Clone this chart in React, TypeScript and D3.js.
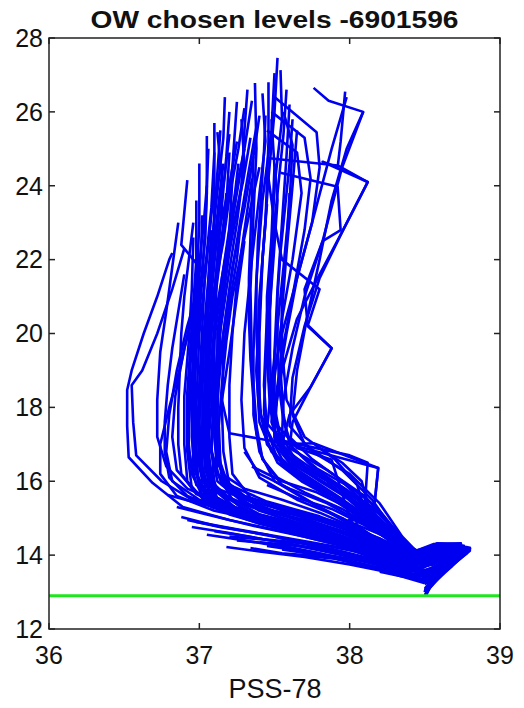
import React from 'react';
import * as d3 from 'd3';

type Pt = [number, number]; // [salinity, temperature]

// profiles whose upper part sits in the dense core around 37.0-37.3
const coreProfiles: Pt[][] = [
  [[37.25,26.27],[37.22,24.5],[37.15,22.5],[37.08,20.5],[37.05,18.5],[37.03,16.8],[37.1,15.8],[37.4,15.1],[37.85,14.6],[38.2,14.1],[38.45,13.9],[38.62,14.25],[38.78,14.18],[38.62,13.5],[38.52,13.05]],
  [[37.1,25.7],[37.1,24.0],[37.05,22.0],[37.0,20.0],[36.98,18.0],[37.0,16.5],[37.08,15.6],[37.35,15.0],[37.8,14.5],[38.1,14.0],[38.4,13.7],[38.65,14.1],[38.75,14.12],[38.58,13.4],[38.51,13.1]],
  [[37.05,25.35],[37.05,23.8],[37.02,21.5],[36.98,19.5],[36.96,17.5],[36.98,16.2],[37.1,15.3],[37.5,14.8],[37.95,14.4],[38.3,13.8],[38.55,13.95],[38.72,14.15],[38.56,13.35],[38.5,13.0]],
  [[37.12,25.45],[37.15,24.2],[37.12,22.8],[37.08,21.0],[37.05,19.0],[37.06,17.2],[37.12,16.0],[37.3,15.4],[37.7,14.9],[38.0,14.4],[38.35,13.85],[38.55,14.2],[38.76,14.15],[38.6,13.45],[38.53,13.15]],
  [[36.92,24.15],[36.88,22.4],[36.98,21.9],[37.0,20.5],[36.95,18.8],[36.92,17.0],[36.98,15.9],[37.25,15.2],[37.6,14.8],[38.05,14.3],[38.4,13.75],[38.6,14.05],[38.74,14.1],[38.57,13.4],[38.5,13.05]],
  [[37.2,24.9],[37.18,23.5],[37.12,21.8],[37.1,20.0],[37.1,18.2],[37.08,16.8],[37.15,15.9],[37.45,15.2],[37.9,14.7],[38.25,14.15],[38.5,13.85],[38.68,14.2],[38.8,14.15],[38.6,13.4],[38.52,13.1]],
  [[37.14,25.5],[37.1,23.2],[37.06,21.0],[37.02,19.2],[37.0,17.6],[37.02,16.4],[37.08,15.5],[37.4,14.95],[37.8,14.55],[38.15,14.0],[38.45,13.6],[38.68,14.0],[38.76,14.05],[38.58,13.35],[38.51,13.05]],
  [[37.28,25.8],[37.3,24.6],[37.25,23.0],[37.18,21.2],[37.12,19.5],[37.1,17.8],[37.12,16.6],[37.2,15.7],[37.55,15.1],[37.95,14.6],[38.3,14.0],[38.52,14.15],[38.7,14.2],[38.56,13.45],[38.5,13.2]],
  [[36.98,23.6],[36.98,22.0],[36.95,20.2],[36.92,18.4],[36.92,16.8],[36.95,15.8],[37.15,15.2],[37.55,14.7],[38.0,14.25],[38.35,13.7],[38.6,13.95],[38.72,14.05],[38.55,13.3],[38.5,13.0]],
  [[37.35,26.3],[37.3,25.0],[37.22,23.4],[37.15,21.5],[37.1,19.8],[37.08,18.0],[37.05,16.5],[37.1,15.6],[37.35,15.05],[37.75,14.6],[38.1,14.2],[38.42,13.85],[38.62,14.15],[38.77,14.12],[38.6,13.5],[38.52,13.1]],
  [[37.3,25.0],[37.25,23.8],[37.18,22.2],[37.12,20.8],[37.08,19.2],[37.06,17.6],[37.06,16.4],[37.12,15.5],[37.4,14.95],[37.85,14.5],[38.2,14.05],[38.45,13.8],[38.63,14.1],[38.76,14.1],[38.58,13.4],[38.51,13.05]],
  [[37.2,26.0],[37.18,24.8],[37.14,23.0],[37.1,21.0],[37.06,19.0],[37.04,17.0],[37.06,15.9],[37.25,15.25],[37.65,14.75],[38.05,14.3],[38.35,13.8],[38.58,14.0],[38.74,14.12],[38.57,13.38],[38.5,13.02]],
  [[37.38,25.6],[37.32,24.2],[37.25,22.5],[37.18,20.6],[37.12,18.8],[37.1,17.2],[37.12,16.2],[37.22,15.5],[37.55,15.0],[37.95,14.5],[38.25,14.05],[38.48,13.85],[38.66,14.18],[38.79,14.15],[38.6,13.48],[38.52,13.12]],
  [[37.0,24.6],[37.0,23.0],[36.98,21.2],[36.96,19.4],[36.95,17.8],[36.96,16.5],[37.02,15.6],[37.3,15.05],[37.7,14.6],[38.1,14.15],[38.4,13.7],[38.6,14.0],[38.72,14.08],[38.56,13.35],[38.5,13.0]],
  [[37.22,24.2],[37.2,22.8],[37.16,21.4],[37.12,20.0],[37.12,18.5],[37.12,17.0],[37.16,16.0],[37.3,15.4],[37.65,14.95],[38.0,14.45],[38.3,13.95],[38.52,13.9],[38.7,14.15],[38.58,13.42],[38.51,13.08]],
  [[37.15,23.4],[37.12,22.0],[37.08,20.4],[37.04,18.8],[37.02,17.4],[37.02,16.2],[37.1,15.4],[37.45,14.9],[37.9,14.45],[38.22,14.0],[38.46,13.75],[38.64,14.08],[38.75,14.1],[38.58,13.4],[38.5,13.05]],
  [[37.32,26.6],[37.3,25.5],[37.28,24.0],[37.2,22.2],[37.14,20.4],[37.1,18.6],[37.08,17.0],[37.1,15.9],[37.3,15.2],[37.7,14.7],[38.1,14.2],[38.4,13.85],[38.62,14.2],[38.78,14.18],[38.6,13.5],[38.52,13.1]],
  [[37.08,22.8],[37.06,21.5],[37.03,20.0],[37.0,18.5],[36.98,17.0],[36.99,16.0],[37.08,15.3],[37.4,14.85],[37.8,14.45],[38.15,14.0],[38.42,13.7],[38.62,13.98],[38.74,14.05],[38.57,13.38],[38.51,13.05]],
  [[37.25,25.2],[37.2,24.0],[37.12,22.6],[37.06,21.0],[37.02,19.6],[37.0,18.2],[37.0,16.9],[37.04,15.8],[37.2,15.2],[37.55,14.8],[37.95,14.35],[38.28,13.9],[38.5,13.9],[38.68,14.15],[38.8,14.12],[38.6,13.45],[38.52,13.08]],
  [[37.4,25.9],[37.36,24.8],[37.3,23.4],[37.22,21.8],[37.16,20.0],[37.12,18.2],[37.12,16.8],[37.18,15.8],[37.4,15.2],[37.8,14.7],[38.15,14.2],[38.42,13.85],[38.6,14.15],[38.75,14.12],[38.58,13.4],[38.5,13.02]],
  [[37.05,24.0],[37.04,22.6],[37.0,21.0],[36.97,19.4],[36.96,18.0],[36.97,16.8],[37.0,15.9],[37.15,15.35],[37.5,14.9],[37.9,14.4],[38.25,13.95],[38.5,13.8],[38.68,14.1],[38.56,13.35],[38.5,13.0]],
  [[37.18,23.8],[37.15,22.4],[37.1,20.8],[37.06,19.2],[37.05,17.8],[37.06,16.6],[37.12,15.7],[37.35,15.15],[37.75,14.65],[38.1,14.15],[38.4,13.8],[38.6,14.05],[38.76,14.12],[38.58,13.42],[38.51,13.06]],
  [[37.26,24.6],[37.22,23.2],[37.16,21.6],[37.1,20.2],[37.07,18.6],[37.06,17.0],[37.08,16.0],[37.22,15.3],[37.6,14.85],[38.0,14.4],[38.3,13.95],[38.55,14.0],[38.7,14.12],[38.57,13.4],[38.5,13.0]],
  [[36.96,22.6],[36.95,21.2],[36.93,19.8],[36.9,18.3],[36.9,17.0],[36.92,16.0],[37.05,15.4],[37.35,15.0],[37.75,14.55],[38.1,14.1],[38.38,13.75],[38.6,14.0],[38.73,14.1],[38.56,13.36],[38.5,13.02]],
  [[37.1,24.9],[37.08,23.4],[37.04,21.8],[37.02,20.2],[37.0,18.6],[37.0,17.2],[37.02,16.1],[37.12,15.4],[37.45,14.9],[37.85,14.45],[38.2,14.0],[38.45,13.82],[38.64,14.12],[38.78,14.15],[38.6,13.48],[38.52,13.1]],
  [[37.35,24.2],[37.3,22.8],[37.25,21.4],[37.22,20.0],[37.2,18.6],[37.2,17.2],[37.22,16.2],[37.35,15.5],[37.7,15.0],[38.05,14.5],[38.32,14.0],[38.55,14.05],[38.72,14.18],[38.58,13.42],[38.51,13.05]],
  [[37.28,23.2],[37.25,22.0],[37.2,20.8],[37.16,19.5],[37.15,18.0],[37.16,16.8],[37.2,15.9],[37.4,15.3],[37.8,14.8],[38.15,14.3],[38.4,13.85],[38.62,14.15],[38.77,14.15],[38.6,13.46],[38.52,13.1]],
  [[37.16,24.6],[37.13,23.6],[37.1,22.4],[37.07,21.3],[37.05,20.1],[37.04,19.0],[37.03,17.9],[37.04,16.9],[37.08,16.0],[37.2,15.5],[37.5,15.2],[37.85,14.9],[38.1,14.55],[38.3,14.1],[38.5,13.8],[38.66,14.0],[38.7,13.85],[38.6,13.5],[38.53,13.2]],
  [[37.3,26.1],[37.26,25.0],[37.2,23.7],[37.16,22.5],[37.1,21.2],[37.06,20.0],[37.04,18.7],[37.03,17.5],[37.05,16.4],[37.12,15.7],[37.35,15.3],[37.7,14.95],[38.0,14.6],[38.25,14.25],[38.42,13.98],[38.58,14.32],[38.74,14.3],[38.68,13.9],[38.6,13.55],[38.52,13.15]],
  [[37.02,23.2],[37.01,22.1],[36.99,21.0],[36.98,20.0],[36.97,18.9],[36.97,17.8],[36.98,16.8],[37.02,16.0],[37.15,15.4],[37.45,14.95],[37.8,14.6],[38.1,14.3],[38.35,13.9],[38.52,13.75],[38.7,14.0],[38.62,13.6],[38.55,13.3],[38.5,13.05]],
  [[37.2,25.4],[37.17,24.3],[37.12,23.0],[37.08,21.7],[37.05,20.4],[37.04,19.2],[37.05,18.0],[37.07,17.0],[37.12,16.2],[37.3,15.6],[37.6,15.25],[37.95,14.85],[38.2,14.45],[38.4,14.0],[38.6,14.2],[38.78,14.22],[38.7,13.95],[38.6,13.6],[38.52,13.1]],
  [[37.1,23.9],[37.1,22.9],[37.08,21.7],[37.06,20.6],[37.06,19.5],[37.08,18.3],[37.1,17.3],[37.12,16.5],[37.2,15.9],[37.45,15.45],[37.8,15.05],[38.05,14.65],[38.3,14.2],[38.48,13.85],[38.65,14.1],[38.76,14.08],[38.62,13.6],[38.54,13.22]],
  [[37.06,25.0],[37.05,24.0],[37.03,23.0],[37.0,21.9],[36.98,20.8],[36.96,19.6],[36.95,18.4],[36.95,17.2],[36.97,16.3],[37.05,15.6],[37.3,15.1],[37.65,14.7],[38.0,14.4],[38.3,13.98],[38.5,13.7],[38.68,13.95],[38.6,13.55],[38.52,13.12]],
  [[37.24,23.6],[37.2,22.5],[37.16,21.3],[37.14,20.2],[37.13,19.0],[37.12,17.9],[37.12,16.9],[37.15,16.1],[37.28,15.55],[37.6,15.2],[37.95,14.8],[38.2,14.35],[38.4,13.95],[38.58,14.2],[38.72,14.25],[38.65,13.8],[38.57,13.42],[38.51,13.05]],
  [[37.34,25.3],[37.29,24.1],[37.22,22.8],[37.16,21.6],[37.11,20.4],[37.08,19.3],[37.06,18.2],[37.05,17.2],[37.06,16.3],[37.1,15.6],[37.3,15.0],[37.6,14.65],[37.95,14.3],[38.25,13.9],[38.45,13.65],[38.62,13.9],[38.72,14.0],[38.6,13.55],[38.52,13.15]],
  [[36.99,22.2],[36.98,21.2],[36.96,20.2],[36.94,19.1],[36.93,18.0],[36.93,17.0],[36.95,16.2],[37.02,15.6],[37.2,15.1],[37.5,14.75],[37.85,14.4],[38.15,14.05],[38.4,13.72],[38.58,13.95],[38.7,14.05],[38.58,13.45],[38.5,13.02]],
  [[37.17,26.4],[37.16,25.3],[37.13,24.2],[37.1,23.1],[37.07,21.9],[37.05,20.7],[37.03,19.6],[37.02,18.4],[37.02,17.3],[37.04,16.3],[37.1,15.6],[37.32,15.05],[37.7,14.7],[38.05,14.35],[38.32,13.95],[38.55,13.95],[38.75,14.15],[38.65,13.75],[38.56,13.35],[38.5,13.0]],
  [[37.4,24.5],[37.34,23.4],[37.28,22.2],[37.22,21.0],[37.18,19.8],[37.15,18.6],[37.13,17.5],[37.14,16.5],[37.2,15.8],[37.4,15.4],[37.75,15.0],[38.05,14.6],[38.28,14.15],[38.45,13.9],[38.62,14.15],[38.79,14.15],[38.68,13.8],[38.58,13.45],[38.52,13.1]],
];

// profiles with the second, saltier stem near 37.4-37.65
const rightProfiles: Pt[][] = [
  [[37.52,27.46],[37.5,26.0],[37.46,24.2],[37.42,22.0],[37.4,20.0],[37.4,18.0],[37.45,17.0],[37.6,16.3],[37.85,15.6],[38.1,15.0],[38.3,14.3],[38.45,13.9],[38.65,14.2],[38.78,14.2],[38.6,13.5],[38.52,13.1]],
  [[37.54,27.13],[37.55,25.8],[37.5,24.0],[37.48,22.3],[37.45,20.5],[37.43,18.6],[37.45,17.4],[37.55,16.6],[37.75,15.9],[38.0,15.2],[38.25,14.5],[38.4,14.0],[38.58,14.3],[38.75,14.25],[38.58,13.4],[38.51,13.0]],
  [[37.5,27.05],[37.48,25.5],[37.42,23.6],[37.38,21.5],[37.36,19.5],[37.36,17.8],[37.4,16.8],[37.5,16.0],[37.75,15.4],[38.05,14.8],[38.3,14.1],[38.5,13.95],[38.7,14.2],[38.58,13.45],[38.52,13.15]],
  [[37.46,26.8],[37.46,25.2],[37.44,23.0],[37.4,21.0],[37.38,19.0],[37.4,17.6],[37.48,16.8],[37.65,16.2],[37.9,15.6],[38.15,14.9],[38.35,14.1],[38.55,14.0],[38.72,14.2],[38.6,13.5],[38.52,13.1]],
  [[37.37,26.78],[37.38,25.0],[37.36,23.2],[37.34,21.2],[37.35,19.2],[37.38,17.5],[37.42,16.6],[37.55,15.9],[37.8,15.3],[38.1,14.6],[38.35,13.95],[38.6,14.1],[38.76,14.15],[38.58,13.4],[38.5,13.05]],
  [[37.6,26.2],[37.58,24.8],[37.55,23.0],[37.52,21.2],[37.5,19.5],[37.5,18.0],[37.55,17.0],[37.7,16.4],[37.95,15.8],[38.2,15.1],[38.35,14.4],[38.5,13.95],[38.68,14.25],[38.8,14.18],[38.62,13.55],[38.53,13.15]],
  [[37.42,26.5],[37.44,25.2],[37.4,23.8],[37.35,22.0],[37.3,20.0],[37.28,18.2],[37.3,16.9],[37.4,16.1],[37.65,15.5],[37.95,15.0],[38.2,14.4],[38.42,13.85],[38.64,14.1],[38.75,14.1],[38.57,13.35],[38.5,13.0]],
  [[37.56,26.0],[37.62,25.1],[37.6,23.5],[37.56,21.8],[37.52,20.2],[37.48,18.6],[37.5,17.3],[37.6,16.6],[37.85,16.0],[38.05,15.3],[38.25,14.6],[38.45,14.0],[38.62,14.3],[38.78,14.2],[38.6,13.45],[38.51,13.05]],
  [[37.48,25.8],[37.5,24.5],[37.48,22.6],[37.45,21.0],[37.45,19.4],[37.47,18.0],[37.52,17.0],[37.62,16.5],[37.8,16.0],[38.0,15.5],[38.2,14.8],[38.38,14.0],[38.6,14.15],[38.74,14.1],[38.57,13.4],[38.5,13.1]],
  [[37.65,25.5],[37.62,24.0],[37.58,22.2],[37.55,20.6],[37.54,19.0],[37.56,17.8],[37.6,17.0],[37.75,16.4],[38.0,15.7],[38.2,15.0],[38.35,14.3],[38.52,14.0],[38.7,14.25],[38.79,14.2],[38.6,13.5],[38.52,13.1]],
  [[37.5,26.4],[37.78,25.45],[37.8,24.5],[37.75,23.0],[37.65,21.5],[37.58,20.0],[37.52,18.5],[37.5,17.2],[37.6,16.5],[37.9,15.8],[38.15,15.1],[38.35,14.3],[38.5,13.95],[38.7,14.2],[38.58,13.45],[38.51,13.05]],
  [[37.48,26.0],[37.7,25.3],[37.74,24.2],[37.7,22.8],[37.62,21.0],[37.55,19.5],[37.5,18.0],[37.5,17.0],[37.62,16.4],[37.92,15.6],[38.2,14.8],[38.4,14.0],[38.62,14.15],[38.76,14.15],[38.58,13.4],[38.5,13.0]],
  [[37.45,25.5],[37.65,24.9],[37.68,23.8],[37.62,22.0],[37.55,20.4],[37.5,18.8],[37.48,17.6],[37.55,16.8],[37.78,16.1],[38.05,15.4],[38.3,14.5],[38.45,13.9],[38.66,14.2],[38.78,14.18],[38.6,13.5],[38.52,13.1]],
  [[37.44,25.9],[37.43,24.9],[37.41,23.7],[37.39,22.5],[37.38,21.3],[37.38,20.1],[37.39,18.9],[37.41,17.8],[37.46,17.0],[37.56,16.4],[37.75,15.9],[37.98,15.4],[38.2,14.85],[38.36,14.25],[38.5,14.0],[38.7,14.25],[38.78,14.1],[38.64,13.65],[38.54,13.2]],
  [[37.58,26.6],[37.56,25.4],[37.53,24.2],[37.5,23.0],[37.48,21.8],[37.47,20.6],[37.47,19.4],[37.48,18.3],[37.5,17.4],[37.58,16.8],[37.72,16.3],[37.95,15.85],[38.15,15.3],[38.3,14.7],[38.42,14.1],[38.6,14.3],[38.76,14.25],[38.66,13.85],[38.56,13.35],[38.51,13.0]],
  [[37.36,24.8],[37.35,23.7],[37.34,22.6],[37.33,21.5],[37.33,20.4],[37.34,19.3],[37.36,18.2],[37.38,17.3],[37.42,16.6],[37.52,16.1],[37.7,15.7],[37.95,15.25],[38.15,14.75],[38.32,14.2],[38.48,13.95],[38.66,14.2],[38.74,14.05],[38.6,13.55],[38.52,13.12]],
  [[37.5,24.6],[37.52,23.6],[37.5,22.4],[37.48,21.3],[37.46,20.2],[37.44,19.0],[37.43,17.9],[37.45,17.1],[37.52,16.5],[37.68,16.0],[37.9,15.5],[38.12,14.95],[38.3,14.4],[38.44,13.95],[38.62,14.12],[38.77,14.18],[38.66,13.8],[38.57,13.42],[38.51,13.08]],
  [[37.62,25.8],[37.6,24.6],[37.57,23.4],[37.54,22.2],[37.52,21.0],[37.52,19.8],[37.53,18.6],[37.56,17.6],[37.62,16.9],[37.78,16.35],[38.0,15.85],[38.18,15.3],[38.32,14.6],[38.45,14.05],[38.64,14.28],[38.8,14.2],[38.7,13.9],[38.6,13.55],[38.52,13.12]],
];

// profiles that bend right at mid depth and form the box shapes
const loopProfiles: Pt[][] = [
  [[37.3,22.5],[37.25,21.0],[37.2,19.5],[37.15,18.2],[37.2,17.3],[37.6,17.0],[38.19,16.36],[38.16,15.17],[38.02,14.8],[38.3,14.2],[38.48,13.9],[38.66,14.2],[38.78,14.15],[38.6,13.45],[38.52,13.08]],
  [[37.45,23.5],[37.42,22.0],[37.4,20.5],[37.38,19.0],[37.4,17.8],[37.55,17.1],[38.0,16.7],[38.12,16.5],[38.1,15.3],[37.98,14.9],[38.25,14.3],[38.45,13.95],[38.64,14.2],[38.76,14.14],[38.58,13.4],[38.51,13.05]],
  [[37.6,23.8],[37.58,22.4],[37.55,21.0],[37.55,19.6],[37.58,18.2],[37.7,17.2],[37.9,16.6],[38.05,15.9],[38.1,15.2],[38.25,14.6],[38.42,13.95],[38.62,14.2],[38.78,14.2],[38.6,13.5],[38.52,13.1]],
  [[37.5,22.8],[37.48,21.5],[37.46,20.2],[37.46,18.8],[37.5,17.6],[37.65,16.9],[37.88,16.58],[38.02,14.76],[38.28,14.3],[38.46,13.92],[38.65,14.2],[38.78,14.16],[38.6,13.48],[38.52,13.1]],
  [[37.76,26.65],[37.86,26.3],[38.09,26.0],[37.98,25.0],[37.88,23.6],[37.8,22.0],[37.72,20.5],[37.65,19.0],[37.62,17.8],[37.7,17.0],[37.95,16.3],[38.15,15.5],[38.3,14.6],[38.45,14.0],[38.66,14.25],[38.78,14.2],[38.6,13.5],[38.52,13.1]],
  [[37.97,26.55],[37.94,25.2],[37.92,24.5],[37.82,24.65],[38.12,24.1],[37.95,22.75],[37.8,21.5],[37.7,20.2],[37.62,18.8],[37.6,17.5],[37.75,16.8],[38.0,16.2],[38.2,15.4],[38.35,14.5],[38.48,13.95],[38.68,14.2],[38.77,14.15],[38.58,13.4],[38.51,13.05]],
  [[37.45,24.5],[37.5,23.0],[37.55,22.0],[37.8,21.2],[37.72,20.2],[37.88,19.6],[37.74,18.55],[37.6,17.8],[37.55,17.0],[37.76,17.03],[38.19,16.36],[38.16,15.17],[38.0,14.9],[38.3,14.4],[38.45,13.9],[38.65,14.2],[38.78,14.18],[38.6,13.45],[38.52,13.08]],
  [[37.45,24.75],[37.92,24.55],[38.12,24.1],[37.95,22.75],[37.8,21.6],[37.65,20.4],[37.55,19.0],[37.5,17.8],[37.55,16.9],[37.8,16.2],[38.05,15.5],[38.3,14.6],[38.45,13.95],[38.65,14.22],[38.78,14.18],[38.6,13.46],[38.52,13.1]],
  [[37.54,24.35],[37.92,23.97],[37.94,22.8],[37.82,22.5],[37.7,21.2],[37.72,20.23],[37.88,19.6],[37.74,18.55],[37.62,17.6],[37.6,16.9],[37.85,16.3],[38.1,15.6],[38.3,14.7],[38.44,13.95],[38.64,14.18],[38.77,14.15],[38.58,13.42],[38.51,13.05]],
  [[37.98,26.4],[37.88,25.0],[37.75,23.0],[37.65,21.5],[37.55,20.0],[37.48,18.6],[37.45,17.4],[37.52,16.6],[37.75,16.0],[38.0,15.3],[38.25,14.5],[38.42,13.92],[38.62,14.15],[38.76,14.12],[38.58,13.4],[38.5,13.02]],
  [[38.09,26.0],[37.95,24.5],[37.82,22.5],[37.7,21.0],[37.62,19.6],[37.56,18.2],[37.55,17.2],[37.65,16.5],[37.9,15.9],[38.12,15.2],[38.3,14.4],[38.46,13.95],[38.66,14.22],[38.79,14.18],[38.6,13.5],[38.52,13.1]],
];

// profiles whose shallowest chosen level is already at mid depth
const midProfiles: Pt[][] = [
  [[37.3,16.8],[37.4,16.2],[37.6,15.8],[37.85,15.4],[38.05,14.95],[38.25,14.45],[38.42,14.0],[38.6,14.25],[38.76,14.2],[38.66,13.8],[38.56,13.4],[38.51,13.05]],
  [[37.15,16.2],[37.3,15.8],[37.55,15.5],[37.8,15.15],[38.0,14.8],[38.2,14.4],[38.38,14.0],[38.55,14.1],[38.72,14.15],[38.62,13.7],[38.54,13.3]],
  [[37.6,17.2],[37.75,16.6],[37.92,16.1],[38.08,15.5],[38.2,14.9],[38.34,14.3],[38.48,13.95],[38.66,14.2],[38.8,14.18],[38.68,13.85],[38.58,13.45],[38.52,13.08]],
  [[37.05,15.9],[37.25,15.6],[37.5,15.3],[37.75,15.0],[38.0,14.65],[38.2,14.25],[38.4,13.9],[38.58,14.0],[38.7,14.1],[38.6,13.6],[38.52,13.18]],
  [[37.8,16.9],[37.95,16.5],[38.08,16.0],[38.12,15.4],[38.22,14.8],[38.35,14.2],[38.47,13.95],[38.62,14.22],[38.78,14.2],[38.66,13.8],[38.56,13.35]],
  [[37.45,15.9],[37.65,15.55],[37.88,15.25],[38.08,14.85],[38.25,14.45],[38.4,14.05],[38.56,14.3],[38.74,14.32],[38.7,13.95],[38.6,13.55],[38.52,13.15]],
  [[37.35,16.4],[37.55,16.0],[37.78,15.7],[37.98,15.3],[38.15,14.85],[38.3,14.35],[38.44,14.0],[38.6,14.18],[38.75,14.18],[38.64,13.75],[38.55,13.35]],
];

// profiles with only deep chosen levels, inside the salty tail
const deepProfiles: Pt[][] = [
  [[38.3,13.9],[38.45,13.75],[38.6,13.85],[38.68,13.9],[38.62,13.65],[38.56,13.4],[38.52,13.15]],
  [[38.35,13.7],[38.5,13.6],[38.62,13.75],[38.7,13.9],[38.66,13.7],[38.6,13.5],[38.54,13.25]],
  [[38.25,13.95],[38.4,13.85],[38.55,14.05],[38.66,14.1],[38.72,14.05],[38.65,13.8],[38.58,13.55],[38.53,13.2]],
  [[38.4,13.5],[38.52,13.45],[38.62,13.6],[38.68,13.7],[38.6,13.45],[38.54,13.2],[38.51,12.95]],
  [[38.3,14.05],[38.45,14.0],[38.6,14.15],[38.72,14.15],[38.78,14.05],[38.7,13.8],[38.62,13.55],[38.55,13.25]],
  [[38.38,13.6],[38.5,13.7],[38.6,13.9],[38.7,14.05],[38.74,13.95],[38.66,13.7],[38.6,13.45],[38.53,13.12]],
  [[38.45,13.4],[38.55,13.5],[38.64,13.65],[38.58,13.35],[38.52,13.05]],
  [[38.2,13.7],[38.4,13.55],[38.55,13.6],[38.66,13.8],[38.7,13.85],[38.62,13.55],[38.55,13.3],[38.5,12.92]],
  [[38.2,13.55],[38.35,13.42],[38.48,13.35],[38.58,13.5],[38.55,13.25],[38.51,12.93]],
  [[38.25,13.8],[38.42,13.65],[38.56,13.75],[38.64,13.95],[38.76,14.1],[38.72,13.9],[38.64,13.6],[38.56,13.3]],
];

// fresher profiles on the left edge
const leftProfiles: Pt[][] = [
  [[36.82,22.18],[36.8,22.0],[36.72,21.0],[36.63,20.0],[36.55,19.0],[36.52,18.47],[36.52,17.5],[36.53,16.65],[36.69,15.95],[36.89,15.3],[37.2,14.95],[37.6,14.6],[38.0,14.2],[38.3,13.8],[38.55,13.85],[38.7,14.05],[38.56,13.35],[38.5,13.02]],
  [[36.9,22.3],[36.82,21.2],[36.72,20.0],[36.62,19.0],[36.55,18.6],[36.56,17.6],[36.58,16.7],[36.75,16.0],[36.95,15.5],[37.3,15.1],[37.7,14.75],[38.05,14.3],[38.35,13.85],[38.6,14.1],[38.75,14.15],[38.58,13.4],[38.51,13.05]],
  [[36.86,23.0],[36.82,21.8],[36.78,20.6],[36.74,19.5],[36.72,18.2],[36.72,17.2],[36.78,16.4],[36.92,15.8],[37.2,15.3],[37.6,14.85],[38.0,14.4],[38.3,13.9],[38.58,14.0],[38.73,14.1],[38.56,13.35],[38.5,13.0]],
  [[37.0,21.3],[36.92,20.2],[36.85,19.0],[36.8,17.8],[36.78,16.8],[36.82,16.0],[37.0,15.5],[37.35,15.1],[37.75,14.7],[38.1,14.2],[38.4,13.8],[38.6,14.05],[38.74,14.1],[38.57,13.38],[38.5,13.02]],
  [[37.05,22.0],[36.98,20.8],[36.9,19.6],[36.84,18.3],[36.82,17.2],[36.85,16.3],[36.98,15.7],[37.3,15.2],[37.7,14.8],[38.05,14.35],[38.35,13.9],[38.58,14.05],[38.72,14.12],[38.56,13.35],[38.5,13.0]],
  [[36.95,20.5],[36.88,19.2],[36.8,18.0],[36.74,17.0],[36.74,16.2],[36.85,15.6],[37.1,15.2],[37.5,14.85],[37.9,14.4],[38.25,13.95],[38.5,13.85],[38.7,14.1],[38.56,13.36],[38.5,13.0]],
  [[36.9,21.6],[36.86,20.6],[36.82,19.6],[36.79,18.6],[36.77,17.6],[36.77,16.8],[36.8,16.1],[36.92,15.6],[37.15,15.25],[37.5,14.9],[37.85,14.55],[38.15,14.15],[38.4,13.8],[38.6,14.0],[38.72,14.08],[38.58,13.45],[38.5,13.02]],
  [[36.96,23.0],[36.93,22.0],[36.9,21.0],[36.88,20.0],[36.87,19.0],[36.86,18.0],[36.86,17.0],[36.88,16.2],[36.98,15.65],[37.2,15.25],[37.55,14.9],[37.9,14.5],[38.2,14.1],[38.42,13.8],[38.62,14.05],[38.74,14.1],[38.6,13.5],[38.52,13.1]],
];

// cold, well-mixed profiles starting near 14-15.5 degrees
const winterProfiles: Pt[][] = [
  [[36.88,15.03],[37.1,14.8],[37.5,14.5],[37.9,14.15],[38.2,13.85],[38.45,13.6],[38.65,13.95],[38.72,14.0],[38.56,13.35],[38.5,13.0]],
  [[36.95,14.76],[37.2,14.6],[37.6,14.3],[37.95,14.0],[38.3,13.6],[38.5,13.4],[38.68,13.85],[38.58,13.4],[38.51,13.1]],
  [[37.18,14.22],[37.4,14.1],[37.7,13.95],[38.0,13.75],[38.3,13.5],[38.48,13.3],[38.62,13.7],[38.55,13.25],[38.5,13.0]],
  [[37.34,14.19],[37.55,14.05],[37.87,13.95],[38.2,13.6],[38.49,13.25],[38.62,13.6],[38.54,13.2]],
  [[36.79,15.63],[37.0,15.4],[37.3,15.1],[37.7,14.7],[38.05,14.25],[38.35,13.8],[38.58,13.9],[38.72,14.1],[38.57,13.4],[38.51,13.05]],
  [[37.67,14.0],[37.9,13.9],[38.2,13.65],[38.45,13.4],[38.65,13.8],[38.56,13.3],[38.51,13.05]],
  [[36.92,14.95],[37.15,14.75],[37.45,14.55],[37.8,14.2],[38.1,13.9],[38.4,13.55],[38.6,13.85],[38.7,13.95],[38.55,13.3]],
  [[37.05,14.55],[37.3,14.4],[37.65,14.15],[38.0,13.9],[38.3,13.65],[38.5,13.5],[38.66,13.9],[38.57,13.35],[38.5,13.02]],
  [[37.25,14.4],[37.5,14.3],[37.8,14.05],[38.1,13.7],[38.4,13.45],[38.6,13.7],[38.52,13.2]],
  [[36.85,15.3],[37.05,15.1],[37.35,14.8],[37.7,14.5],[38.0,14.2],[38.3,13.85],[38.52,13.75],[38.7,14.05],[38.56,13.35],[38.5,13.02]],
  [[37.45,14.25],[37.7,14.1],[38.0,13.85],[38.25,13.6],[38.45,13.4],[38.58,13.6],[38.64,13.75],[38.56,13.35],[38.51,13.05]],
  [[37.1,14.65],[37.4,14.45],[37.75,14.2],[38.05,13.95],[38.3,13.7],[38.5,13.55],[38.68,13.95],[38.74,14.05],[38.6,13.5],[38.52,13.1]],
  [[36.98,14.9],[37.25,14.7],[37.6,14.45],[37.95,14.2],[38.25,13.85],[38.45,13.65],[38.62,13.85],[38.7,14.0],[38.6,13.55],[38.52,13.08]],
  [[37.55,14.15],[37.8,14.0],[38.1,13.75],[38.35,13.5],[38.5,13.3],[38.6,13.5],[38.53,13.15]],
  [[37.4,14.35],[37.65,14.25],[37.95,14.05],[38.15,13.8],[38.35,13.6],[38.52,13.55],[38.64,13.8],[38.58,13.45],[38.52,13.1]],
  [[37.2,14.5],[37.5,14.4],[37.85,14.25],[38.1,14.05],[38.3,13.95],[38.5,14.0],[38.68,14.15],[38.62,13.75],[38.55,13.35]],
];

const chosenLevel = 12.9;
const xTicks = [36, 37, 38, 39];
const yTicks = [12, 14, 16, 18, 20, 22, 24, 26, 28];

const allProfiles = [...leftProfiles, ...winterProfiles, ...deepProfiles, ...midProfiles, ...coreProfiles, ...rightProfiles, ...loopProfiles];

export default function App() {
  const W = 524, H = 708;
  const left = 49, right = 500, top = 38, bottom = 629;
  const x = d3.scaleLinear().domain([36, 39]).range([left, right]);
  const y = d3.scaleLinear().domain([12, 28]).range([bottom, top]);
  const line = d3.line<Pt>().x(d => x(d[0])).y(d => y(d[1]));
  const font = 'Arial, "Liberation Sans", Helvetica, sans-serif';
  const tk = 6;

  return (
    <svg width={W} height={H} style={{ position: 'absolute', left: 0, top: 0, background: '#fff' }}>
      <rect x={0} y={0} width={W} height={H} fill="#fff" />
      <defs>
        <clipPath id="plot">
          <rect x={left} y={top} width={right - left} height={bottom - top} />
        </clipPath>
      </defs>
      <g clipPath="url(#plot)">
        {allProfiles.map((p, i) => (
          <path key={i} d={line(p) ?? ''} fill="none" stroke="#0000f0" strokeWidth={2.6} strokeLinejoin="round" />
        ))}
        <line x1={x(36)} x2={x(39)} y1={y(chosenLevel)} y2={y(chosenLevel)} stroke="#1ee61e" strokeWidth={3} />
      </g>
      <rect x={left} y={top} width={right - left} height={bottom - top} fill="none" stroke="#222" strokeWidth={1.5} />
      {xTicks.map(t => (
        <g key={'x' + t}>
          <line x1={x(t)} x2={x(t)} y1={bottom} y2={bottom - tk} stroke="#222" strokeWidth={1.5} />
          <line x1={x(t)} x2={x(t)} y1={top} y2={top + tk} stroke="#222" strokeWidth={1.5} />
          <text x={x(t)} y={664} textAnchor="middle" fontFamily={font} fontSize={25} fill="#111">{t}</text>
        </g>
      ))}
      {yTicks.map(t => (
        <g key={'y' + t}>
          <line x1={left} x2={left + tk} y1={y(t)} y2={y(t)} stroke="#222" strokeWidth={1.5} />
          <line x1={right} x2={right - tk} y1={y(t)} y2={y(t)} stroke="#222" strokeWidth={1.5} />
          <text x={43} y={y(t)} dy="0.35em" textAnchor="end" fontFamily={font} fontSize={25} fill="#111">{t}</text>
        </g>
      ))}
      <text x={274.5} y={28} textAnchor="middle" fontFamily={font} fontSize={23} fontWeight="bold" textLength={368} lengthAdjust="spacingAndGlyphs" fill="#111">
        OW chosen levels -6901596
      </text>
      <text x={275} y={698} textAnchor="middle" fontFamily={font} fontSize={27} fill="#111">PSS-78</text>
    </svg>
  );
}
